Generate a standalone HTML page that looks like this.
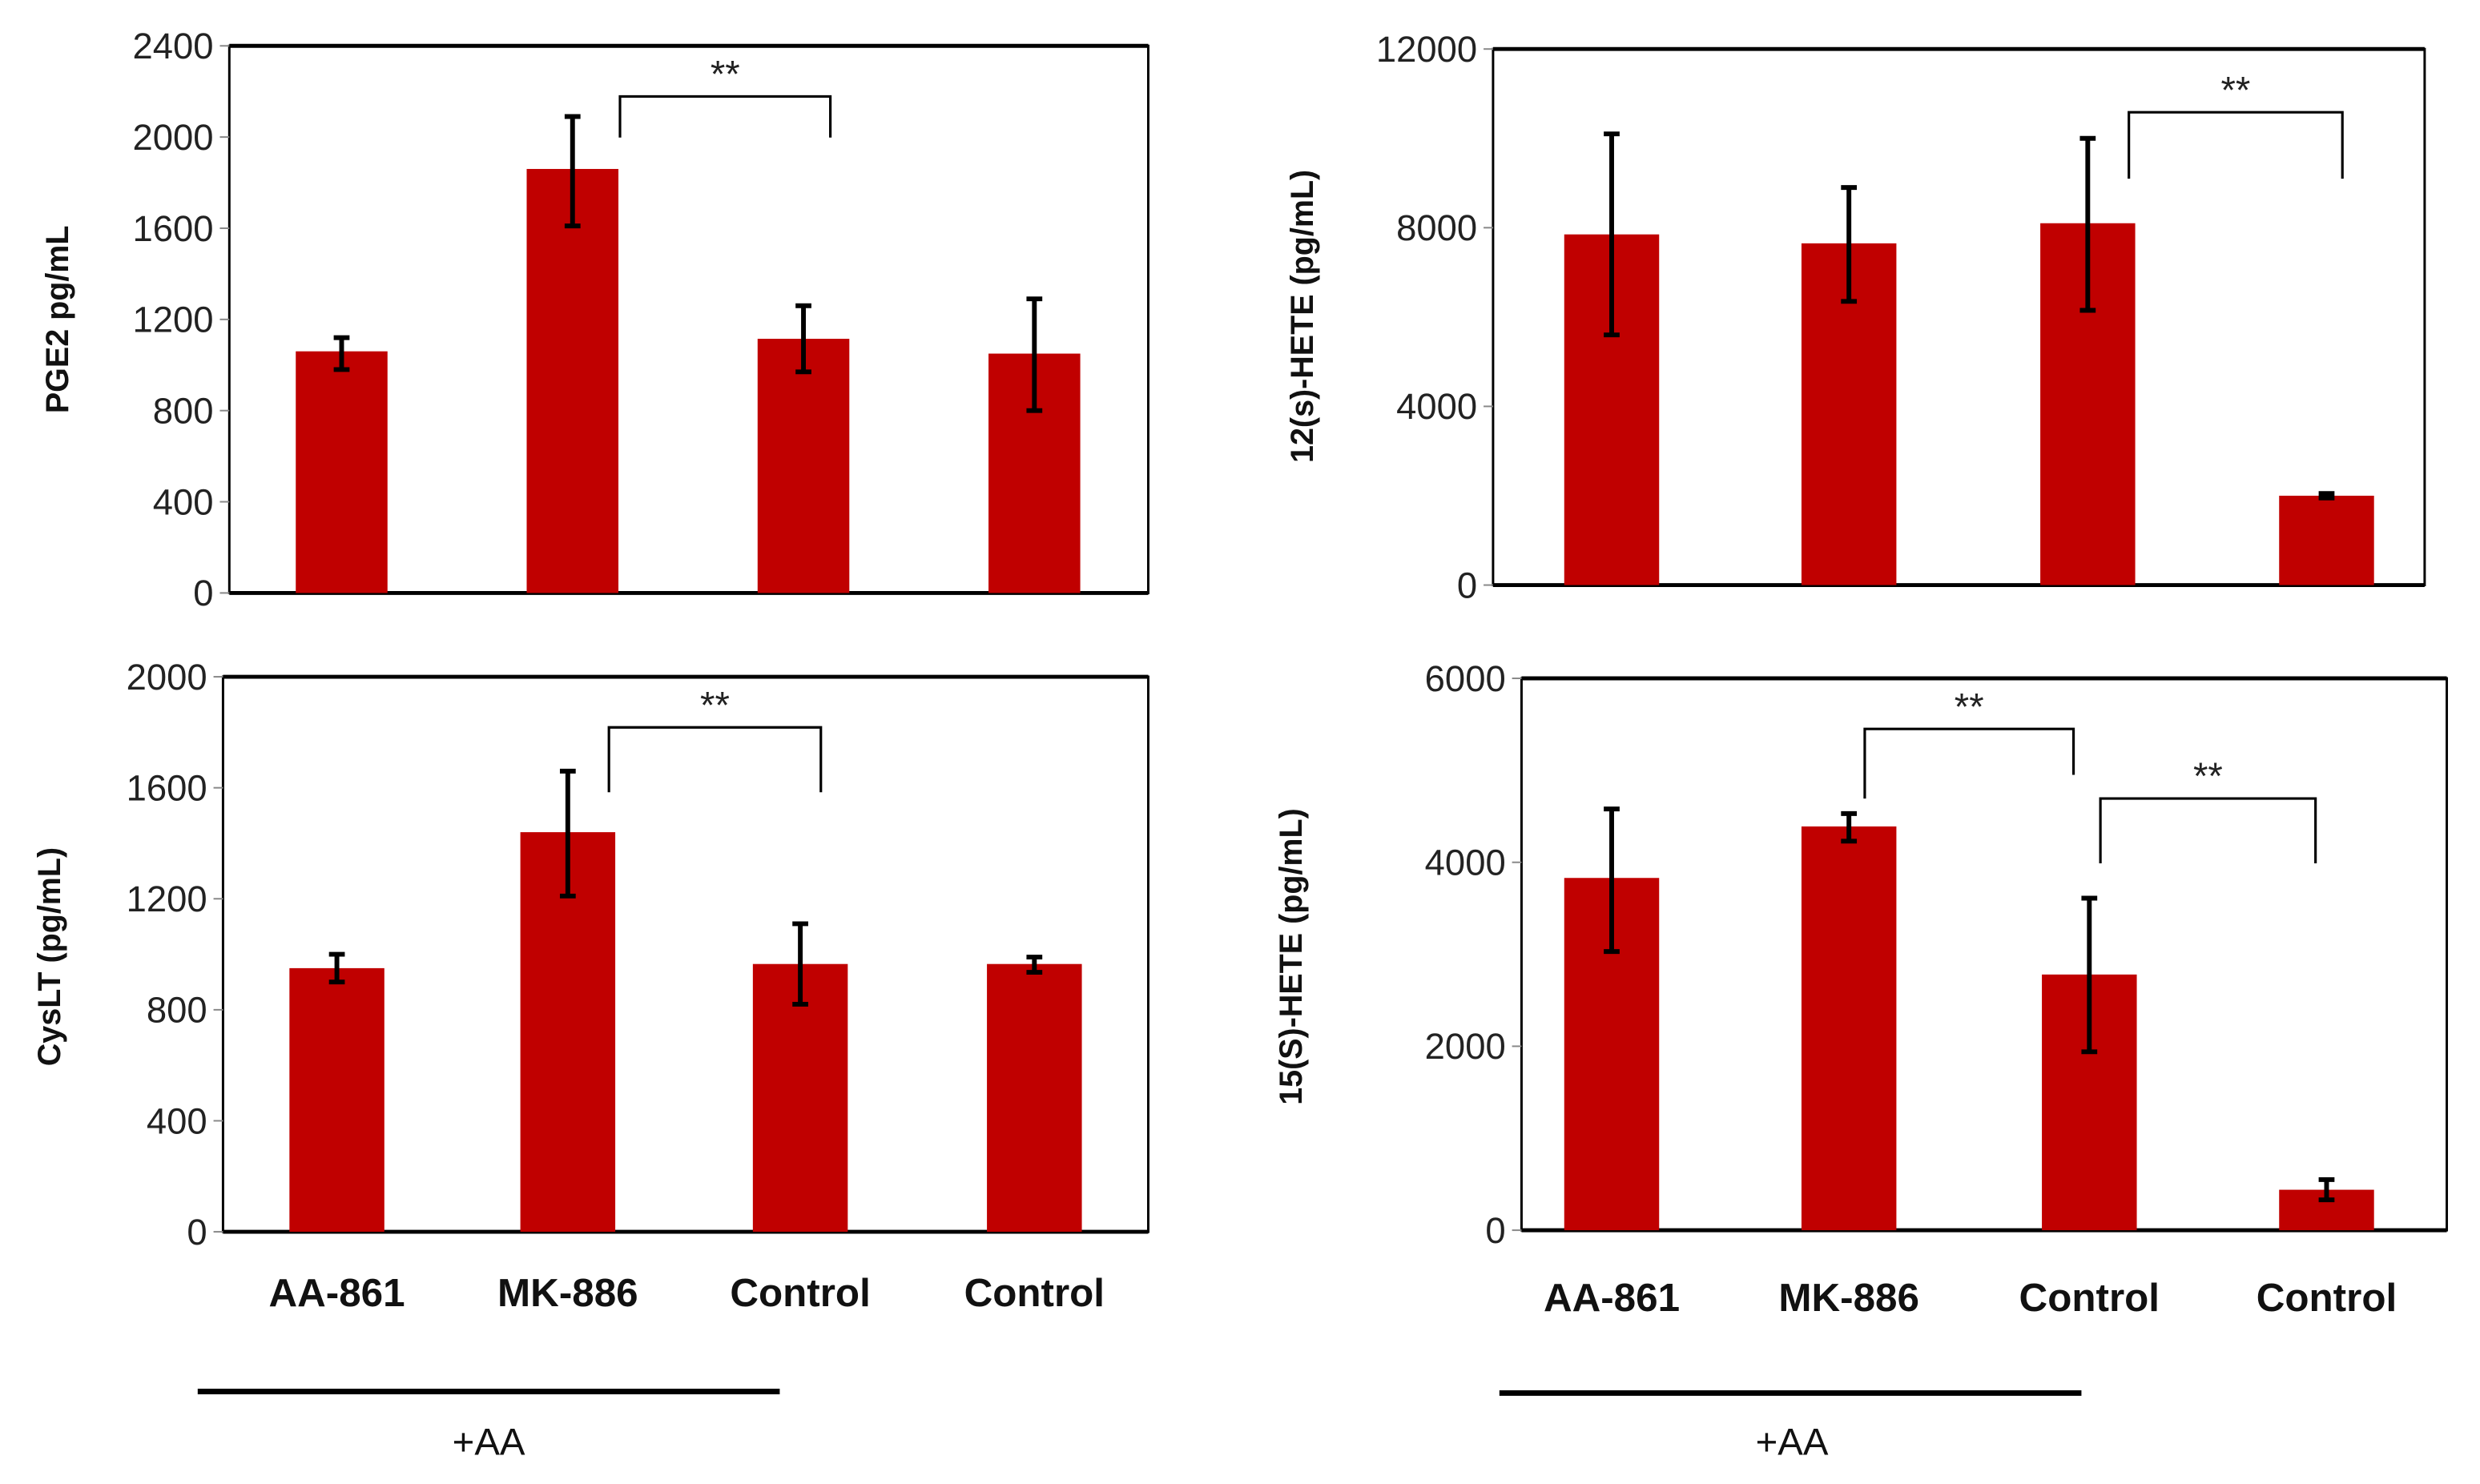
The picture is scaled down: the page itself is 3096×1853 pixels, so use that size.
<!DOCTYPE html>
<html><head><meta charset="utf-8"><style>
html,body{margin:0;padding:0;background:#fff;}
svg{display:block;}
text{font-family:"Liberation Sans Narrow","Liberation Sans",sans-serif;}
</style></head>
<body>
<svg id="fig" width="3096" height="1853" viewBox="0 0 1568 938.5" preserveAspectRatio="none" xmlns="http://www.w3.org/2000/svg"></svg>
<script>
const categories = ["AA-861","MK-886","Control","Control"];
const pgeValues = [1060,1860,1115,1050];
const pgeLow = [980,1610,970,800];
const pgeHigh = [1120,2090,1260,1290];
const pgeTicks = [0,400,800,1200,1600,2000,2400];
const heteValues = [7850,7650,8100,2000];
const heteLow = [5600,6350,6150,1950];
const heteHigh = [10100,8900,10000,2050];
const heteTicks = [0,4000,8000,12000];
const cysValues = [950,1440,965,965];
const cysLow = [900,1210,820,935];
const cysHigh = [1000,1660,1110,990];
const cysTicks = [0,400,800,1200,1600,2000];
const hete15Values = [3830,4390,2780,440];
const hete15Low = [3030,4230,1940,330];
const hete15High = [4580,4530,3610,550];
const hete15Ticks = [0,2000,4000,6000];

const NS="http://www.w3.org/2000/svg";
const svg=document.getElementById('fig');
function el(tag,attrs,parent){const e=document.createElementNS(NS,tag);for(const k in attrs)e.setAttribute(k,attrs[k]);(parent||svg).appendChild(e);return e;}

const panels=[
 {name:'pge2',x0:145,x1:726,yt:29,yb:375,ticks:pgeTicks,v:pgeValues,lo:pgeLow,hi:pgeHigh,cx:[216,362,508,654],bw:58,label:'PGE2  pg/mL',lx:35,ly:202,
  br:[[392,525,61,87,87]],cats:false},
 {name:'hete12',x0:944,x1:1533,yt:31,yb:370,ticks:heteTicks,v:heteValues,lo:heteLow,hi:heteHigh,cx:[1019,1169,1320,1471],bw:60,label:'12(s)-HETE  (pg/mL)',lx:822,ly:200,
  br:[[1346,1481,71,113,113]],cats:false},
 {name:'cyslt',x0:141,x1:726,yt:428,yb:779,ticks:cysTicks,v:cysValues,lo:cysLow,hi:cysHigh,cx:[213,359,506,654],bw:60,label:'CysLT (pg/mL)',lx:30,ly:605,
  br:[[385,519,460,501,501]],cats:true,caty:826,aa:[125,493,880,309,920]},
 {name:'hete15',x0:962,x1:1547,yt:429,yb:778,ticks:hete15Ticks,v:hete15Values,lo:hete15Low,hi:hete15High,cx:[1019,1169,1321,1471],bw:60,label:'15(S)-HETE (pg/mL)',lx:815,ly:605,
  br:[[1179,1311,461,505,490],[1328,1464,505,546,546]],cats:true,caty:829,aa:[948,1316,881,1133,920]}
];

panels.forEach(p=>{
  const g=el('g',{});
  
  
  const max=p.ticks[p.ticks.length-1];
  const y=v=>p.yb-(v/max)*(p.yb-p.yt);
  const fr=el('rect',{x:p.x0,y:p.yt,width:p.x1-p.x0,height:p.yb-p.yt,fill:'none',stroke:'#000','stroke-width':1.5},g);
  
  
  el('line',{x1:p.x0,x2:p.x1,y1:p.yt,y2:p.yt,stroke:'#000','stroke-width':2.5},g);
  el('line',{x1:p.x0,x2:p.x1,y1:p.yb,y2:p.yb,stroke:'#000','stroke-width':2.5},g);
  p.ticks.forEach(t=>{
    el('line',{x1:p.x0-6,x2:p.x0,y1:y(t),y2:y(t),stroke:'#888','stroke-width':1},g);
    const tx=el('text',{x:p.x0-10,y:y(t)+8,'text-anchor':'end','font-size':23,fill:'#222'},g);
    tx.textContent=t;
    
    
  });
  p.v.forEach((v,i)=>{
    const b=el('rect',{x:p.cx[i]-p.bw/2,y:y(v),width:p.bw,height:p.yb-y(v),fill:'#c00000'},g);
    
    
    const e=el('path',{d:`M${p.cx[i]},${y(p.lo[i])}V${y(p.hi[i])}M${p.cx[i]-5},${y(p.lo[i])}H${p.cx[i]+5}M${p.cx[i]-5},${y(p.hi[i])}H${p.cx[i]+5}`,stroke:'#000','stroke-width':3,fill:'none'},g);
    
    
  });
  p.br.forEach(b=>{
    const pa=el('path',{d:`M${b[0]},${b[3]}V${b[2]}H${b[1]}V${b[4]}`,stroke:'#000','stroke-width':1.6,fill:'none'},g);
    
    
    const st=el('text',{x:(b[0]+b[1])/2,y:b[2]-6,'text-anchor':'middle','font-size':24,fill:'#222'},g);
    st.textContent='**';
    
    
  });
  const yl=el('text',{x:0,y:0,transform:`translate(${p.lx+8},${p.ly}) rotate(-90)`,'text-anchor':'middle','font-size':20,'font-weight':'bold',fill:'#111','font-family':'"Liberation Sans",sans-serif'},g);
  yl.textContent=p.label;
  
  
  if(p.cats){
    categories.forEach((c,i)=>{
      const t=el('text',{x:p.cx[i],y:p.caty,'text-anchor':'middle','font-size':25,'font-weight':'bold',fill:'#111'},g);
      t.textContent=c;
      
      
    });
    const a=p.aa;
    const ln=el('line',{x1:a[0],x2:a[1],y1:a[2],y2:a[2],stroke:'#000','stroke-width':3.5},g);
    
    
    const at=el('text',{x:a[3],y:a[4],'text-anchor':'middle','font-size':24,fill:'#111'},g);
    at.textContent='+AA';
    
    
  }
});
</script>
</body></html>
